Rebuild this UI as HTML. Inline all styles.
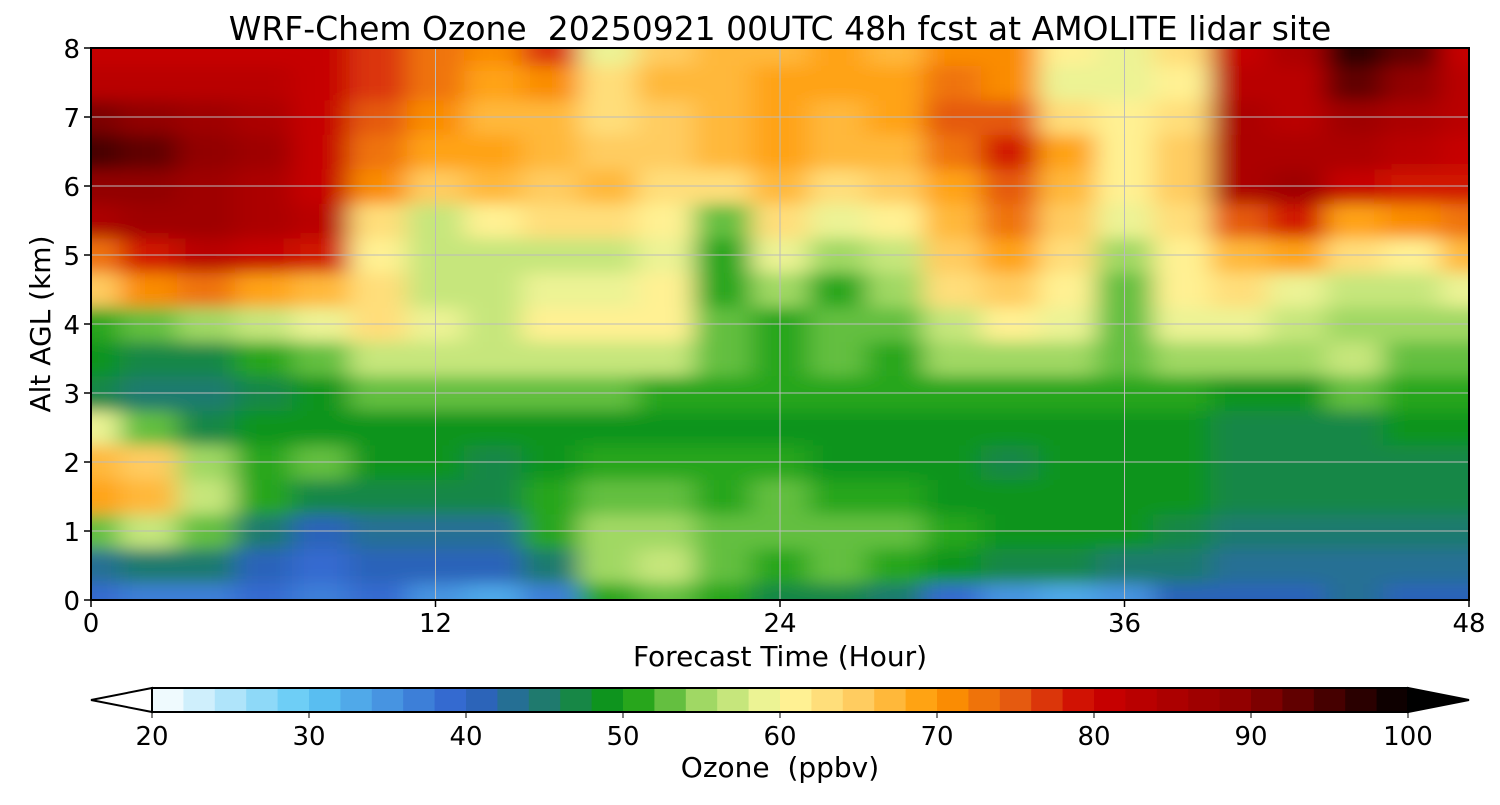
<!DOCTYPE html>
<html><head><meta charset="utf-8"><style>
body{margin:0;background:#fff;}
svg text{font-family:"DejaVu Sans","Liberation Sans",sans-serif;fill:#000;white-space:pre;}
</style></head><body>
<svg id="chart" width="1500" height="800" xmlns="http://www.w3.org/2000/svg">
<defs><clipPath id="pc"><rect x="91" y="48" width="1378" height="552"/></clipPath>
<filter id="blur" x="-10%" y="-20%" width="120%" height="140%"><feGaussianBlur stdDeviation="13 8"/></filter></defs>
<text x="780" y="40" font-size="33" text-anchor="middle" xml:space="preserve">WRF-Chem Ozone  20250921 00UTC 48h fcst at AMOLITE lidar site</text>
<g clip-path="url(#pc)"><g id="cells" filter="url(#blur)"></g></g>
<g id="grid"></g>
<rect x="91" y="48" width="1378" height="552" fill="none" stroke="#000" stroke-width="2"/>
<g id="axes"></g>
<text x="780" y="666" font-size="28" text-anchor="middle">Forecast Time (Hour)</text>
<text transform="translate(50,324) rotate(-90)" font-size="28" text-anchor="middle">Alt AGL (km)</text>
<g id="cbar"></g>
<text x="780" y="777" font-size="28" text-anchor="middle" xml:space="preserve">Ozone  (ppbv)</text>
</svg>
<script>
const times=[0,2,4,6,8,10,12,14,16,18,20,22,24,26,28,30,32,34,36,38,40,42,44,46,48];
const alts=[0,0.5,1,1.5,2,2.5,3,3.5,4,4.5,5,5.5,6,6.5,7,7.5,8];
const ozone=[
[38,42,52,68,66,58,46,48,50,64,72,84,88,94,90,82,80],
[36,44,56,66,64,52,45,47,52,70,78,86,88,92,88,82,80],
[36,44,52,56,54,47,45,47,54,72,82,86,86,88,86,82,80],
[38,40,44,50,50,48,47,50,56,68,80,84,84,86,84,82,80],
[36,38,40,46,52,48,48,52,58,66,78,82,80,80,80,80,80],
[38,40,42,46,48,48,52,56,62,62,60,62,70,72,74,76,76],
[34,40,42,46,48,48,52,56,58,57,56,56,64,68,70,72,72],
[32,40,42,46,47,48,53,56,57,56,57,60,66,68,66,68,70],
[36,44,50,50,48,48,52,56,60,58,56,62,64,66,66,70,76],
[50,54,54,52,50,49,52,57,60,58,57,62,66,64,62,62,58],
[52,56,54,52,50,49,51,56,60,60,58,60,62,64,64,66,64],
[50,52,52,50,50,48,50,52,52,50,50,52,62,66,66,66,66],
[46,50,52,52,50,48,50,50,50,54,58,62,66,68,68,68,66],
[46,52,52,50,49,48,50,52,52,50,54,58,62,66,66,68,68],
[44,50,52,50,49,48,50,51,52,54,56,60,64,66,68,68,66],
[38,48,50,49,48,48,50,54,56,62,64,66,68,72,74,72,70],
[34,46,49,48,47,48,50,54,60,64,68,72,74,78,74,70,70],
[32,46,48,48,48,48,50,54,58,60,62,64,66,68,62,58,60],
[34,44,48,48,48,48,50,52,52,52,54,58,60,60,60,58,58],
[40,44,46,48,48,48,50,54,58,60,60,62,64,64,62,60,62],
[40,42,44,46,46,46,48,54,58,62,66,74,84,84,84,82,80],
[40,42,44,46,46,46,48,54,56,58,68,78,86,84,82,82,84],
[42,42,44,46,46,47,52,56,54,56,62,68,80,84,86,92,96],
[40,42,44,46,46,48,50,52,54,56,60,70,78,82,84,88,92],
[40,42,44,46,46,48,50,52,54,58,66,72,78,80,82,82,80]];
const xTicks=[0,12,24,36,48];
const yTicks=[0,1,2,3,4,5,6,7,8];
const cbTicks=[20,30,40,50,60,70,80,90,100];

const X0=91,X1=1469,Y0=600,Y1=48;
const xs=t=>X0+(t/48)*(X1-X0);
const ys=z=>Y0-(z/8)*(Y0-Y1);
const stops=[[20,[255,255,255]],[30,[94,200,245]],[40,[47,95,204]],[45,[31,122,110]],[50,[10,154,10]],[55,[160,216,100]],[60,[255,250,160]],[65,[255,204,96]],[70,[255,153,0]],[75,[229,90,16]],[80,[204,0,0]],[90,[139,0,0]],[100,[0,0,0]]];
function cmap(v){
  v=Math.max(20,Math.min(100,Math.floor(v/2)*2+1));
  for(let i=0;i<stops.length-1;i++){const a=stops[i],b=stops[i+1];
    if(v<=b[0]){const f=(v-a[0])/(b[0]-a[0]);return 'rgb('+a[1].map((c,k)=>Math.round(c+(b[1][k]-c)*f)).join(',')+')';}}
  return 'rgb(0,0,0)';
}
const NS='http://www.w3.org/2000/svg';
function mk(tag,attrs,parent){const e=document.createElementNS(NS,tag);for(const k in attrs)e.setAttribute(k,attrs[k]);parent.appendChild(e);return e;}
const cells=document.getElementById('cells');
const dt=times[1]-times[0],dz=alts[1]-alts[0];
const last=times.length-1,lastZ=alts.length-1;
times.forEach((t,i)=>alts.forEach((z,j)=>{
  let x0=xs(t-dt/2),x1=xs(t+dt/2),y0=ys(z+dz/2),y1=ys(z-dz/2);
  if(i===0)x0-=50; if(i===last)x1+=50; if(j===0)y1+=40; if(j===lastZ)y0-=40;
  const r=mk('rect',{x:x0,y:y0,width:x1-x0+0.6,height:y1-y0+0.6,fill:cmap(ozone[i][j])},cells);
  
  
}));
const grid=document.getElementById('grid'),axes=document.getElementById('axes');
xTicks.forEach(t=>{
  if(t>0&&t<48) mk('line',{x1:xs(t),x2:xs(t),y1:Y1,y2:Y0,stroke:'#bbb','stroke-width':1},grid);
  mk('line',{x1:xs(t),x2:xs(t),y1:Y0,y2:Y0+7,stroke:'#000','stroke-width':1.5},axes);
  const tx=mk('text',{x:xs(t),y:Y0+32,'font-size':26,'text-anchor':'middle'},axes);tx.textContent=t;
  
  
});
yTicks.forEach(z=>{
  if(z>0&&z<8) mk('line',{x1:X0,x2:X1,y1:ys(z),y2:ys(z),stroke:'#bbb','stroke-width':1},grid);
  mk('line',{x1:X0-7,x2:X0,y1:ys(z),y2:ys(z),stroke:'#000','stroke-width':1.5},axes);
  const tx=mk('text',{x:X0-11,y:ys(z)+10,'font-size':26,'text-anchor':'end'},axes);tx.textContent=z;
  
  
});
const cb=document.getElementById('cbar');
const C0=152,C1=1408,CT=688,CB=712;
const cx=v=>C0+(v-20)/80*(C1-C0);
for(let v=20;v<100;v+=2){mk('rect',{x:cx(v),y:CT,width:cx(v+2)-cx(v)+0.5,height:CB-CT,fill:cmap(v)},cb);}
mk('polygon',{points:`${C0},${CT} ${C0},${CB} 91,700`,fill:'#fff',stroke:'#000','stroke-width':2},cb);
mk('polygon',{points:`${C1},${CT} ${C1},${CB} 1469,700`,fill:'#000',stroke:'#000','stroke-width':2},cb);
mk('rect',{x:C0,y:CT,width:C1-C0,height:CB-CT,fill:'none',stroke:'#000','stroke-width':2},cb);
cbTicks.forEach(v=>{
  mk('line',{x1:cx(v),x2:cx(v),y1:CB,y2:CB+6,stroke:'#000'},cb);
  const tx=mk('text',{x:cx(v),y:CB+33,'font-size':26,'text-anchor':'middle'},cb);tx.textContent=v;
  
  
});
</script>
</body></html>
